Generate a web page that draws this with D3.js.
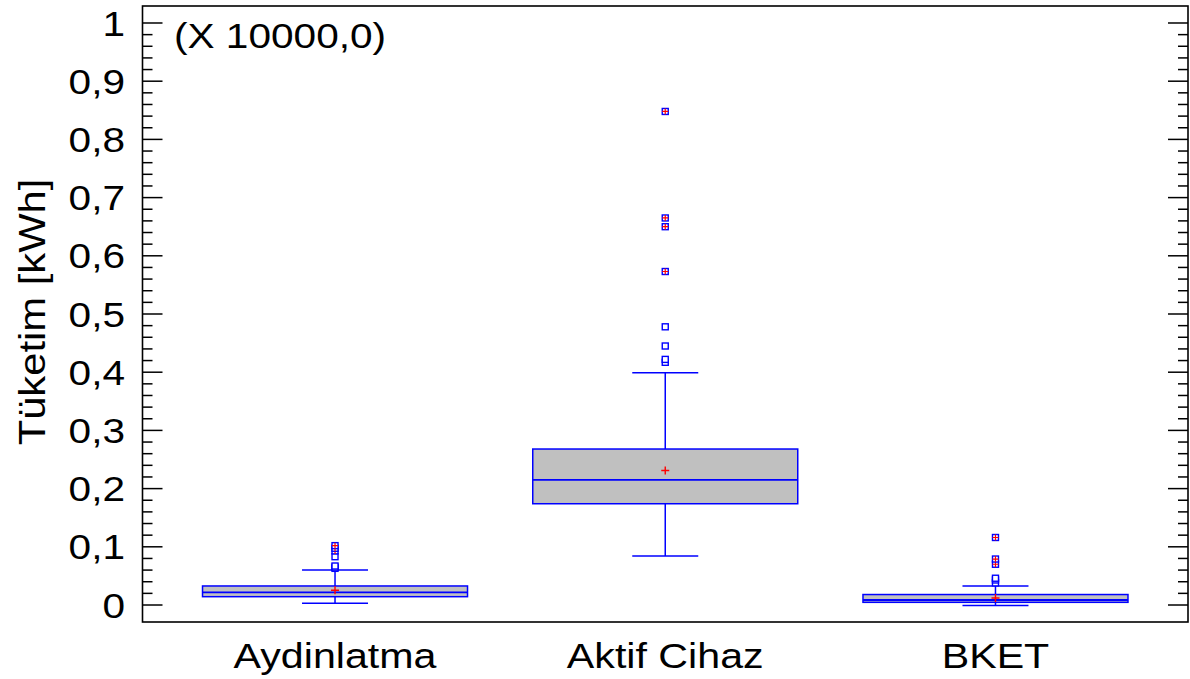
<!DOCTYPE html>
<html>
<head>
<meta charset="utf-8">
<script src="https://cdn.jsdelivr.net/npm/d3@7"></script>
<style>
  html, body { margin: 0; padding: 0; background: #fff; }
  svg { display: block; }
  text { font-family: "Liberation Sans", Arial, sans-serif; fill: #000; }
</style>
</head>
<body>
<svg id="chart" width="1190" height="679"></svg>
<script>
// Box-and-whisker summary for each consumption group (values in units of 10000 kWh)
const categories = ["Aydinlatma", "Aktif Cihaz", "BKET"];
const q1Values = [0.0143, 0.174, 0.0046];
const medianValues = [0.0218, 0.215, 0.0086];
const q3Values = [0.0327, 0.268, 0.018];
const meanValues = [0.0253, 0.231, 0.012];
const whiskerLow = [0.003, 0.084, -0.001];
const whiskerHigh = [0.0603, 0.399, 0.0327];
const outlierValues = [
  [0.063, 0.065, 0.067, 0.083, 0.093, 0.0975, 0.102],
  [0.417, 0.422, 0.445, 0.478, 0.573, 0.650, 0.665, 0.848],
  [0.038, 0.043, 0.046, 0.070, 0.079, 0.116]
];
const majorTicks = [0, 0.1, 0.2, 0.3, 0.4, 0.5, 0.6, 0.7, 0.8, 0.9, 1];
const majorTickLabels = ["0", "0,1", "0,2", "0,3", "0,4", "0,5", "0,6", "0,7", "0,8", "0,9", "1"];
const minorTicks = d3.range(0, 51).map(i => i / 50).filter(v => Math.round(v * 50) % 5 !== 0);
const scaleNote = "(X 10000,0)";
const yTitle = "Tüketim [kWh]";

const svg = d3.select("#chart");
const frame = { left: 142.5, right: 1188, top: 6, bottom: 622 };
const textStretch = 1.16;

const x = d3.scalePoint()
  .domain(categories)
  .range([frame.left, frame.right])
  .padding(0.583);

const y = d3.scaleLinear()
  .domain([-0.0292, 1.0292])
  .range([frame.bottom, frame.top]);

const boxWidth = 265;
const capWidth = 66;
const blue = "#0000ff";
const red = "#ff0000";

// Plot frame
svg.append("rect")
  .attr("x", frame.left).attr("y", frame.top)
  .attr("width", frame.right - frame.left).attr("height", frame.bottom - frame.top)
  .attr("fill", "none").attr("stroke", "#000").attr("stroke-width", 1.6);

// Inward ticks on both vertical edges
function drawTicks(values, len) {
  const g = svg.append("g").attr("stroke", "#000").attr("stroke-width", 1.5);
  g.selectAll("line.l").data(values).join("line")
    .attr("x1", frame.left).attr("x2", frame.left + len)
    .attr("y1", d => y(d)).attr("y2", d => y(d));
  g.selectAll("line.r").data(values).join("line")
    .attr("x1", frame.right).attr("x2", frame.right - len)
    .attr("y1", d => y(d)).attr("y2", d => y(d));
}
drawTicks(majorTicks, 20);
drawTicks(minorTicks, 10);

// Y tick labels
svg.append("g").selectAll("text").data(majorTicks).join("text")
  .attr("transform", d => `translate(125,${y(d)}) scale(${textStretch},1)`)
  .attr("text-anchor", "end")
  .attr("dy", "0.36em")
  .attr("font-size", 35)
  .text((d, i) => majorTickLabels[i]);

// Category labels
svg.append("g").selectAll("text").data(categories).join("text")
  .attr("transform", d => `translate(${x(d)},668) scale(${textStretch},1)`)
  .attr("text-anchor", "middle")
  .attr("font-size", 35.5)
  .text(d => d);

// Y axis title
svg.append("text")
  .attr("transform", `translate(45,${(frame.top + frame.bottom) / 2 - 2}) rotate(-90) scale(${textStretch},1)`)
  .attr("text-anchor", "middle")
  .attr("font-size", 36)
  .text(yTitle);

// Multiplier note
svg.append("text")
  .attr("transform", `translate(174,48) scale(${textStretch},1)`)
  .attr("font-size", 35)
  .text(scaleNote);

// Boxes
const groups = svg.append("g").selectAll("g").data(categories).join("g");

groups.each(function (cat, i) {
  const g = d3.select(this);
  const cx = x(cat);

  // whiskers
  g.append("line")
    .attr("x1", cx).attr("x2", cx)
    .attr("y1", y(q3Values[i])).attr("y2", y(whiskerHigh[i]))
    .attr("stroke", blue).attr("stroke-width", 1.5);
  g.append("line")
    .attr("x1", cx).attr("x2", cx)
    .attr("y1", y(q1Values[i])).attr("y2", y(whiskerLow[i]))
    .attr("stroke", blue).attr("stroke-width", 1.5);
  [whiskerHigh[i], whiskerLow[i]].forEach(v => {
    g.append("line")
      .attr("x1", cx - capWidth / 2).attr("x2", cx + capWidth / 2)
      .attr("y1", y(v)).attr("y2", y(v))
      .attr("stroke", blue).attr("stroke-width", 1.5);
  });

  // box
  g.append("rect")
    .attr("x", cx - boxWidth / 2).attr("width", boxWidth)
    .attr("y", y(q3Values[i])).attr("height", y(q1Values[i]) - y(q3Values[i]))
    .attr("fill", "#c0c0c0").attr("stroke", blue).attr("stroke-width", 1.5);

  // median
  g.append("line")
    .attr("x1", cx - boxWidth / 2).attr("x2", cx + boxWidth / 2)
    .attr("y1", y(medianValues[i])).attr("y2", y(medianValues[i]))
    .attr("stroke", blue).attr("stroke-width", 1.8);

  // mean marker
  const my = y(meanValues[i]);
  g.append("path")
    .attr("d", `M${cx - 4},${my}H${cx + 4}M${cx},${my - 4}V${my + 4}`)
    .attr("stroke", red).attr("stroke-width", 1.4).attr("fill", "none");

  // outliers: beyond 3 IQR get a red cross inside the square
  const iqr = q3Values[i] - q1Values[i];
  const farLimit = q3Values[i] + 3 * iqr;
  outlierValues[i].forEach(v => {
    const oy = y(v);
    g.append("rect")
      .attr("x", cx - 3).attr("y", oy - 3)
      .attr("width", 6).attr("height", 6)
      .attr("fill", "#fff").attr("stroke", blue).attr("stroke-width", 1.4);
    if (v > farLimit) {
      g.append("path")
        .attr("d", `M${cx - 3},${oy}H${cx + 3}M${cx},${oy - 3}V${oy + 3}`)
        .attr("stroke", red).attr("stroke-width", 1.2).attr("fill", "none");
    }
  });
});
</script>
</body>
</html>
